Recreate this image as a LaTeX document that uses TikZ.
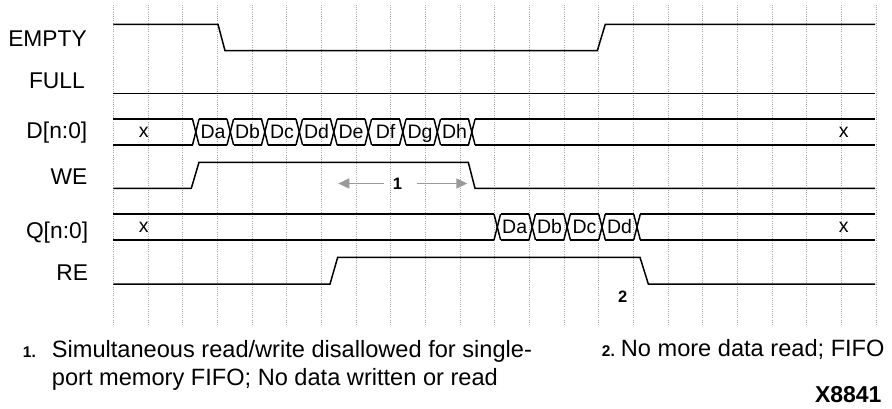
\documentclass[tikz,border=0pt]{standalone}
\usepackage{fontspec}
\setmainfont{Liberation Sans}
\usetikzlibrary{arrows.meta}
\begin{document}
\begin{tikzpicture}[x=1pt,y=-1pt,
  sig/.style={line width=1.5pt, line join=miter, line cap=butt},
  gridline/.style={draw=black!35, line width=0.7pt, dash pattern=on 0.8pt off 1.4pt},
  lab/.style={font=\fontsize{22.8}{26}\selectfont, anchor=base east, inner sep=0},
  dat/.style={font=\fontsize{19.5}{22}\selectfont, inner sep=0, anchor=base},
  note/.style={font=\fontsize{23.6}{27.7}\selectfont, anchor=base west, inner sep=0},
  num/.style={font=\fontsize{15.5}{18}\selectfont\bfseries, anchor=base west, inner sep=0},
  callout/.style={font=\fontsize{16.5}{19}\selectfont\bfseries, inner sep=0},
  garrow/.style={draw=black!40, line width=1.5pt, -{Triangle[length=11pt,width=10pt]}}]
\useasboundingbox[fill=white] (0,0) rectangle (892,409);

% grid
\foreach \i in {0,...,22}
  \draw[gridline] ({113.3+34.67*\i},5) -- ({113.3+34.67*\i},325);

% signal labels
\node[lab] (lEMPTY) at (87,46.7) {EMPTY};
\node[lab] (lFULL)  at (85,88.3) {FULL};
\node[lab] (lD)     at (87.5,138.3) {D[n:0]};
\node[lab] (lWE)    at (87.5,185) {WE};
\node[lab] (lQ)     at (88.3,238.3) {Q[n:0]};
\node[lab] (lRE)    at (88.3,280) {RE};

% EMPTY
\draw[sig] (113.3,24.3) -- (218,24.3) -- (225,50.7) -- (597.3,50.7) -- (605.3,24.3) -- (875,24.3);
% FULL
\draw[sig] (113.3,93.7) -- (875,93.7);
% WE
\draw[sig] (113.3,188.3) -- (191.3,188.3) -- (199,162.3) -- (468.3,162.3) -- (475,188.3) -- (875,188.3);
% RE
\draw[sig] (113.3,284) -- (330,284) -- (337.7,257.3) -- (640,257.3) -- (648.3,284) -- (875,284);

% D bus (top 119, bottom 145)
\def\h{3.3}
\draw[sig] (113.3,119) -- (195.8-\h,119);
\draw[sig] (113.3,145) -- (195.8-\h,145);
\foreach \c in {195.8,230.3,264.8,299.3,333.8,368.3,402.8,437.3,471.8}{
  \draw[sig] (\c-\h,119) -- (\c+\h,145);
  \draw[sig] (\c-\h,145) -- (\c+\h,119);
}
\foreach \a/\b in {195.8/230.3,230.3/264.8,264.8/299.3,299.3/333.8,333.8/368.3,368.3/402.8,402.8/437.3,437.3/471.8}{
  \draw[sig] (\a+\h,119) -- (\b-\h,119);
  \draw[sig] (\a+\h,145) -- (\b-\h,145);
}
\draw[sig] (471.8+\h,119) -- (875,119);
\draw[sig] (471.8+\h,145) -- (875,145);
\node[dat] (dx1) at (143.7,138) {x};
\node[dat] (dDa) at (213,138.8) {Da};
\node[dat] (dDb) at (247.5,138.8) {Db};
\node[dat] (dDc) at (282,138.8) {Dc};
\node[dat] (dDd) at (316.5,138.8) {Dd};
\node[dat] (dDe) at (351,138.8) {De};
\node[dat] (dDf) at (385.5,138.8) {Df};
\node[dat] (dDg) at (420,138.8) {Dg};
\node[dat] (dDh) at (454.5,138.8) {Dh};
\node[dat] (dx2) at (843.7,138) {x};

% Q bus (top 214, bottom 240)
\draw[sig] (113.3,214) -- (497.3-\h,214);
\draw[sig] (113.3,240) -- (497.3-\h,240);
\foreach \c in {497.3,532.2,567.1,602,637}{
  \draw[sig] (\c-\h,214) -- (\c+\h,240);
  \draw[sig] (\c-\h,240) -- (\c+\h,214);
}
\foreach \a/\b in {497.3/532.2,532.2/567.1,567.1/602,602/637}{
  \draw[sig] (\a+\h,214) -- (\b-\h,214);
  \draw[sig] (\a+\h,240) -- (\b-\h,240);
}
\draw[sig] (637+\h,214) -- (875,214);
\draw[sig] (637+\h,240) -- (875,240);
\node[dat] (qx1) at (143.7,233) {x};
\node[dat] (qDa) at (514.7,233.8) {Da};
\node[dat] (qDb) at (549.6,233.8) {Db};
\node[dat] (qDc) at (584.5,233.8) {Dc};
\node[dat] (qDd) at (619.5,233.8) {Dd};
\node[dat] (qx2) at (843.7,233) {x};

% callout 1
\node[callout] (c1) at (397.5,183.5) {1};
\coordinate (c1l) at (338.3,183.5);
\coordinate (c1r) at (467.3,183.5);
\draw[garrow] ([xshift=-9pt]c1.west) -- (c1l);
\draw[garrow] ([xshift=15pt]c1.east) -- (c1r);

% callout 2
\node[callout] (c2) at (622.7,296.7) {2};

% notes
\node[num]  (n1)  at (22.7,357.3) {1.};
\node[note] (n1a) at (51.7,357.3) {Simultaneous read/write disallowed for single-};
\node[note] (n1b) at (51.7,385) {port memory FIFO; No data written or read};
\node[num]  (n2)  at (601.7,356.7) {2.};
\node[note] (n2a) at (620.7,356.7) {No more data read; FIFO};
\node[font=\fontsize{23}{26}\selectfont\bfseries, anchor=base east, inner sep=0] (fig) at (881.7,402.7) {X8841};
\end{tikzpicture}
\end{document}
